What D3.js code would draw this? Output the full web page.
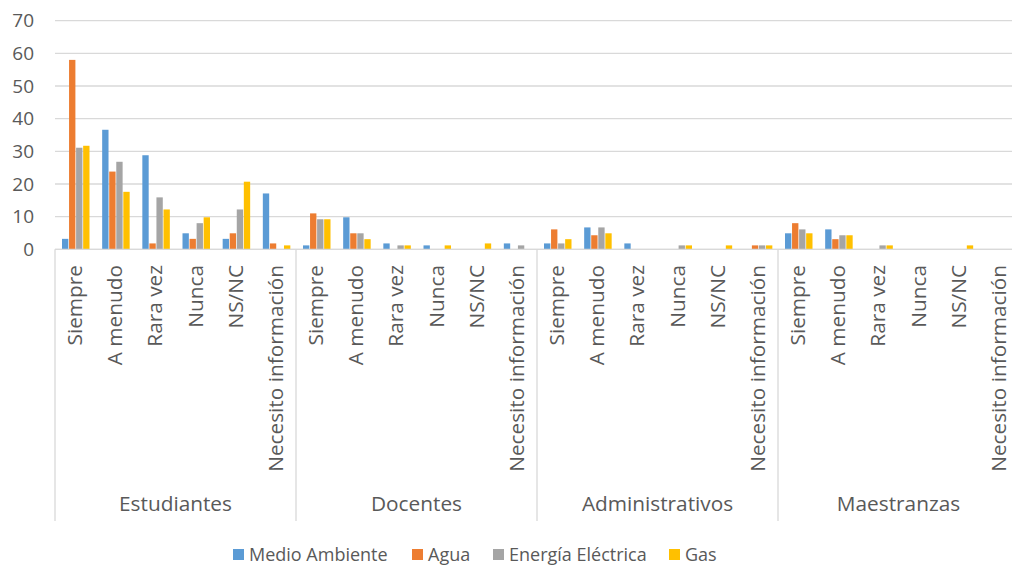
<!DOCTYPE html>
<html>
<head>
<meta charset="utf-8">
<script src="https://cdn.jsdelivr.net/npm/d3@7"></script>
<style>
  html, body { margin: 0; padding: 0; background: #fff; }
  svg text { font-family: "Open Sans", "Noto Sans", sans-serif; fill: #595959; }
</style>
</head>
<body>
<svg id="chart" width="1012" height="568"></svg>
<script>
// Respondent groups and answer categories (x axis is nested: group > category)
const groups = ["Estudiantes", "Docentes", "Administrativos", "Maestranzas"];
const categories = ["Siempre", "A menudo", "Rara vez", "Nunca", "NS/NC", "Necesito información"];
const seriesNames = ["Medio Ambiente", "Agua", "Energía Eléctrica", "Gas"];
const seriesColors = ["#5b9bd5", "#ed7d31", "#a5a5a5", "#ffc000"];

// Values per series, in group order, six categories per group
const medioAmbiente = [3.2, 36.6, 28.8, 4.9, 3.2, 17.1,
                       1.2, 9.8, 1.8, 1.2, 0, 1.8,
                       1.8, 6.7, 1.8, 0, 0, 0,
                       4.9, 6.1, 0, 0, 0, 0];
const agua = [58.0, 23.8, 1.8, 3.2, 4.9, 1.8,
              11.0, 4.9, 0, 0, 0, 0,
              6.1, 4.3, 0, 0, 0, 1.2,
              8.0, 3.1, 0, 0, 0, 0];
const energiaElectrica = [31.1, 26.8, 15.9, 8.0, 12.2, 0,
                          9.2, 4.9, 1.2, 0, 0, 1.2,
                          1.8, 6.7, 0, 1.2, 0, 1.2,
                          6.1, 4.3, 1.2, 0, 0, 0];
const gas = [31.7, 17.6, 12.2, 9.8, 20.7, 1.2,
             9.2, 3.1, 1.2, 1.2, 1.8, 0,
             3.1, 4.9, 0, 1.2, 1.2, 1.2,
             4.9, 4.3, 1.2, 0, 1.2, 0];
const seriesValues = [medioAmbiente, agua, energiaElectrica, gas];
const yTicks = [0, 10, 20, 30, 40, 50, 60, 70];

const svg = d3.select("#chart");
const plotLeft = 55, plotRight = 1019, plotTop = 20.7, plotBottom = 249.3;

// One slot per (group, category) pair
const slots = [];
groups.forEach((g, gi) => categories.forEach((c, ci) => slots.push({ g, c, key: gi + "|" + ci })));

const x0 = d3.scaleBand().domain(slots.map(d => d.key)).range([plotLeft, plotRight]);
const x1 = d3.scaleBand().domain(seriesNames).range([7, 34.5]).paddingInner(0.1);
const y = d3.scaleLinear().domain([0, 70]).range([plotBottom, plotTop]);

// Horizontal gridlines
svg.append("g")
  .selectAll("line")
  .data(yTicks)
  .join("line")
  .attr("x1", plotLeft).attr("x2", plotRight)
  .attr("y1", d => y(d)).attr("y2", d => y(d))
  .attr("stroke", "#d9d9d9").attr("stroke-width", 1.3);

// Y axis labels
const yAxis = d3.axisLeft(y).tickValues(yTicks).tickSize(0).tickPadding(0);
const yG = svg.append("g").attr("transform", "translate(34,0)").call(yAxis);
yG.select(".domain").remove();
yG.attr("font-family", null).attr("font-size", null);
yG.selectAll("text")
  .attr("font-size", 19)
  .attr("fill", "#595959");

// Bars
const barData = [];
slots.forEach((s, i) => seriesNames.forEach((name, si) => {
  barData.push({ key: s.key, name, color: seriesColors[si], value: seriesValues[si][i] });
}));
svg.append("g")
  .selectAll("rect")
  .data(barData.filter(d => d.value > 0))
  .join("rect")
  .attr("x", d => x0(d.key) + x1(d.name))
  .attr("width", x1.bandwidth())
  .attr("y", d => y(d.value))
  .attr("height", d => y(0) - y(d.value))
  .attr("fill", d => d.color);

// Category axis line
svg.append("line")
  .attr("x1", plotLeft).attr("x2", plotRight)
  .attr("y1", plotBottom).attr("y2", plotBottom)
  .attr("stroke", "#d9d9d9").attr("stroke-width", 1.3);

// Group separators
const groupW = (plotRight - plotLeft) / groups.length;
svg.append("g")
  .selectAll("line")
  .data(d3.range(groups.length + 1))
  .join("line")
  .attr("x1", i => plotLeft + i * groupW).attr("x2", i => plotLeft + i * groupW)
  .attr("y1", plotBottom).attr("y2", 521)
  .attr("stroke", "#d9d9d9").attr("stroke-width", 1.3);

// Rotated category labels
svg.append("g")
  .selectAll("text")
  .data(slots)
  .join("text")
  .attr("transform", d => `translate(${x0(d.key) + x0.bandwidth() / 2 + 7},265) rotate(-90)`)
  .attr("text-anchor", "end")
  .attr("font-size", 20.8)
  .text(d => d.c);

// Group labels
svg.append("g")
  .selectAll("text")
  .data(groups)
  .join("text")
  .attr("x", (d, i) => plotLeft + (i + 0.5) * groupW)
  .attr("y", 511)
  .attr("text-anchor", "middle")
  .attr("font-size", 20.8)
  .text(d => d);

// Legend
const legendX = [233, 412, 493, 669];
const legend = svg.append("g")
  .selectAll("g")
  .data(seriesNames)
  .join("g")
  .attr("transform", (d, i) => `translate(${legendX[i]},0)`);
legend.append("rect")
  .attr("x", 0).attr("y", 549).attr("width", 11).attr("height", 11)
  .attr("fill", (d, i) => seriesColors[i]);
legend.append("text")
  .attr("x", 16).attr("y", 561)
  .attr("font-size", 18)
  .text(d => d);
</script>
</body>
</html>
